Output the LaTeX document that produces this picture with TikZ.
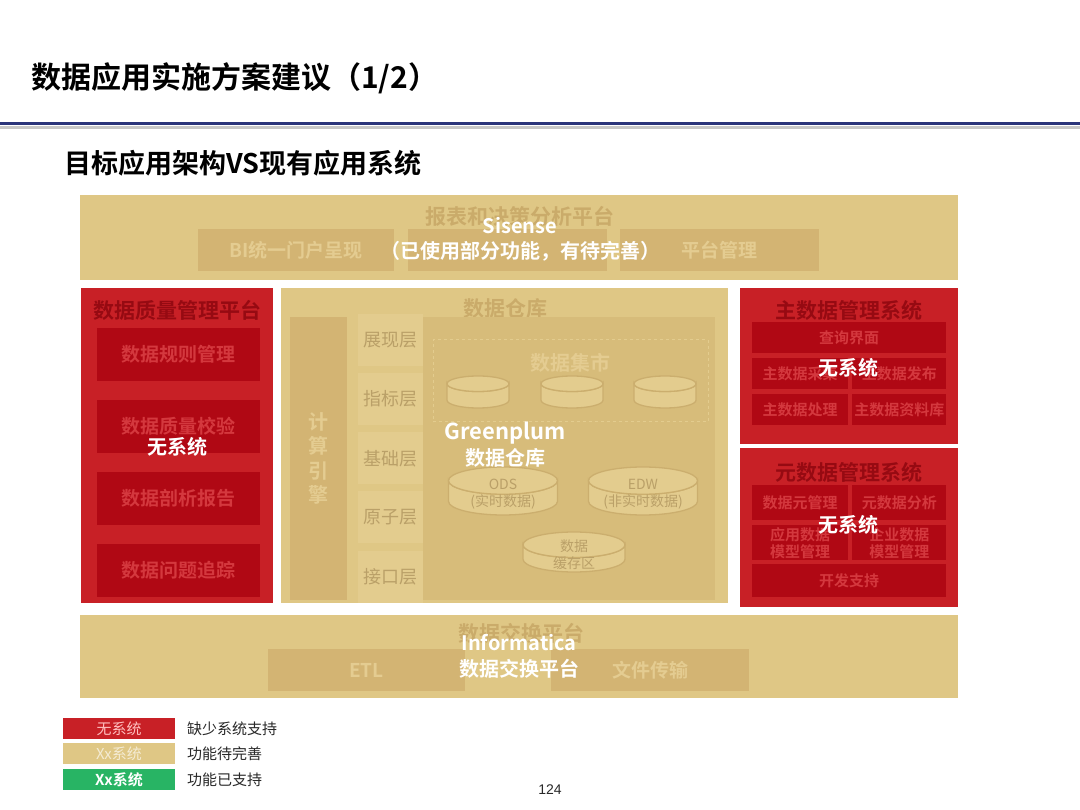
\documentclass[tikz,border=0pt]{standalone}
\usepackage{fontspec}
\setmainfont{Noto Sans CJK SC}[BoldFont={Noto Sans CJK SC Bold}]
\newfontfamily\numfont{Liberation Sans}
\usepackage{tikz}
\usetikzlibrary{positioning}

\definecolor{tanbg}{RGB}{223,199,133}
\definecolor{tandk}{RGB}{211,180,115}
\definecolor{tanin}{RGB}{215,188,122}
\definecolor{tancell}{RGB}{227,204,142}
\definecolor{tanttl}{RGB}{202,171,106}
\definecolor{tantx}{RGB}{228,204,145}
\definecolor{tanlyr}{RGB}{186,160,104}
\definecolor{tanedge}{RGB}{203,174,110}
\definecolor{redbg}{RGB}{200,32,38}
\definecolor{reddk}{RGB}{176,8,20}
\definecolor{redttl}{RGB}{150,10,18}
\definecolor{redtx}{RGB}{212,56,62}
\definecolor{navy}{RGB}{42,52,122}
\definecolor{okgreen}{RGB}{40,180,100}
\definecolor{lgdtx}{RGB}{40,40,40}

\newcommand\sz[2]{\fontsize{#1}{#2}\selectfont}
% flat storage disc: name, cx, cy, x radius, height, text
\newcommand\disc[6]{%
  \pgfmathsetmacro\dry{#4*0.25}%
  \pgfmathsetmacro\dtop{#3-#5/2+\dry}%
  \pgfmathsetmacro\dbot{#3+#5/2-\dry}%
  \filldraw[discline] ({#2-#4},\dtop) -- ({#2-#4},\dbot)
    arc[start angle=180,end angle=0,x radius=#4,y radius=\dry]
    -- ({#2+#4},\dtop)
    arc[start angle=0,end angle=180,x radius=#4,y radius=\dry] -- cycle;
  \filldraw[discline] (#2,\dtop) ellipse[x radius=#4,y radius=\dry];
  \node[disctext] (#1) at (#2,{#3+\dry/4}) {#6};
}

\begin{document}
\begin{tikzpicture}[
  x=1pt, y=-1pt,
  bar/.style={fill=tanbg,inner sep=0,minimum width=878,minimum height=85},
  redpanel/.style={fill=redbg,inner sep=0},
  tanpanel/.style={fill=tanbg,inner sep=0},
  tanbox/.style={fill=tandk,inner sep=0,minimum height=42,text=tantx,
                 font=\bfseries\sz{19}{23}},
  redbox/.style={fill=reddk,inner sep=0,text=redtx,align=center,
                 font=\bfseries\sz{15}{17}},
  tanhead/.style={text=tanttl,font=\bfseries\sz{21}{25}},
  redhead/.style={text=redttl,font=\bfseries\sz{21}{25}},
  over/.style={text=white,font=\bfseries\sz{20}{24}},
  layer/.style={fill=tancell,inner sep=0,minimum width=65,minimum height=52,
                text=tanlyr,font=\sz{18}{22}},
  discline/.style={draw=tanedge,line width=1.3pt,fill=tancell},
  disctext/.style={inner sep=0,align=center,text=tanlyr,font=\sz{14}{17}},
  lgd/.style={inner sep=0,minimum width=112,minimum height=21,
              font=\sz{15}{18}},
  lgdtext/.style={anchor=west,inner sep=0,text=lgdtx,font=\sz{15}{18}}
]
\useasboundingbox[fill=white] (0,0) rectangle (1080,810);

% heading
\node[anchor=west,inner sep=0,font=\bfseries\sz{30}{35}] (title) at (31,78) {数据应用实施方案建议（1/2）};
\node[fill=black!22,inner sep=0,minimum width=1080,minimum height=3] (shade) at (540,127.5) {};
\node[fill=navy,inner sep=0,minimum width=1080,minimum height=3] (rule) at (540,124) {};
\node[anchor=west,inner sep=0,font=\bfseries\sz{27}{32}] (subtitle) at (64,163) {目标应用架构VS现有应用系统};

% reporting platform
\node[bar] (rpt) at (519,238) {};
\node[tanhead] (rpthead) at (520,216) {报表和决策分析平台};
\node[tanbox,minimum width=196] (bi) at (296,250) {BI统一门户呈现};
\node[tanbox,minimum width=199,right=14pt of bi] (rptmid) {};
\node[tanbox,minimum width=199,right=12pt of rptmid] (plat) {平台管理};
\node[over] (sis) at (520,226) {Sisense};
\node[over] (sisnote) at (520,251) {（已使用部分功能，有待完善）};

% data quality
\node[redpanel,minimum width=192,minimum height=315] (dq) at (177,445.5) {};
\node[redhead] (dqhead) at (177,310) {数据质量管理平台};
\node[redbox,minimum width=163,minimum height=53,font=\bfseries\sz{19}{23}] (dq1) at (178.5,354.5) {数据规则管理};
\node[redbox,minimum width=163,minimum height=53,font=\bfseries\sz{19}{23},below=18.5pt of dq1] (dq2) {数据质量校验};
\node[redbox,minimum width=163,minimum height=53,font=\bfseries\sz{19}{23},below=18.5pt of dq2] (dq3) {数据剖析报告};
\node[redbox,minimum width=163,minimum height=53,font=\bfseries\sz{19}{23},below=18.5pt of dq3] (dq4) {数据问题追踪};
\node[over] (dqno) at (177,447) {无系统};

% data warehouse
\node[tanpanel,minimum width=447,minimum height=315] (dw) at (504.5,445.5) {};
\node[tanhead] (dwhead) at (505,309) {数据仓库};
\node[tanbox,minimum width=57,minimum height=283,align=center,
      font=\bfseries\sz{20}{24.5}] (eng) at (318.5,458.5) {计\\算\\引\\擎};
\node[fill=tanin,inner sep=0,minimum width=292,minimum height=283] (whin) at (569,458.5) {};
\node[layer] (l1) at (390.5,340) {展现层};
\node[layer,below=6.75pt of l1] (l2) {指标层};
\node[layer,below=6.75pt of l2] (l3) {基础层};
\node[layer,below=6.75pt of l3] (l4) {原子层};
\node[layer,below=6.75pt of l4] (l5) {接口层};
\node[draw=tancell,dashed,line width=1pt,inner sep=0,minimum width=275,minimum height=82] (mart) at (570.5,381) {};
\node[text=tantx,font=\bfseries\sz{20}{24}] (marthead) at (570,363) {数据集市};
\disc{m1}{478}{392}{31}{32}{}
\disc{m2}{572}{392}{31}{32}{}
\disc{m3}{665}{392}{31}{32}{}
\disc{ods}{503}{491}{54.5}{48}{ODS\\(实时数据)}
\disc{edw}{643}{491}{54.5}{48}{EDW\\(非实时数据)}
\disc{cache}{574}{552}{51}{40}{数据\\缓存区}
\node[over,font=\bfseries\sz{22}{26}] (gp) at (505,433) {Greenplum};
\node[over] (gpdw) at (505,458) {数据仓库};

% master data
\node[redpanel,minimum width=218,minimum height=156] (mdm) at (849,366) {};
\node[redhead] (mdmhead) at (849,310) {主数据管理系统};
\node[redbox,minimum width=194,minimum height=31] (query) at (849,337.5) {查询界面};
\node[redbox,minimum width=96,minimum height=31] (collect) at (800,373.5) {主数据采集};
\node[redbox,minimum width=94,minimum height=31,right=4pt of collect] (publish) {主数据发布};
\node[redbox,minimum width=96,minimum height=31,below=5pt of collect] (process) {主数据处理};
\node[redbox,minimum width=94,minimum height=31,right=4pt of process] (store) {主数据资料库};
\node[over] (mdmno) at (848,368) {无系统};

% meta data
\node[redpanel,minimum width=218,minimum height=159] (meta) at (849,527.5) {};
\node[redhead] (metahead) at (849,472) {元数据管理系统};
\node[redbox,minimum width=96,minimum height=35] (elem) at (800,502.5) {数据元管理};
\node[redbox,minimum width=94,minimum height=35,right=4pt of elem] (analyse) {元数据分析};
\node[redbox,minimum width=96,minimum height=35,below=5pt of elem] (appmodel) {应用数据\\模型管理};
\node[redbox,minimum width=94,minimum height=35,right=4pt of appmodel] (entmodel) {企业数据\\模型管理};
\node[redbox,minimum width=194,minimum height=33] (dev) at (849,580.5) {开发支持};
\node[over] (metano) at (848,525) {无系统};

% data exchange
\node[bar,minimum height=83] (xch) at (519,656.5) {};
\node[tanhead] (xchhead) at (521,633) {数据交换平台};
\node[tanbox,minimum width=197] (etl) at (366.5,670) {ETL};
\node[tanbox,minimum width=198] (file) at (650,670) {文件传输};
\node[over] (infa) at (519,643) {Informatica};
\node[over] (infanote) at (519,669) {数据交换平台};

% legend
\node[lgd,fill=redbg,text=red!25] (lg1) at (119,728.5) {无系统};
\node[lgd,fill=tanbg,text=tantx!40!white] (lg2) at (119,753.5) {Xx系统};
\node[lgd,fill=okgreen,text=white,font=\bfseries\sz{15}{18}] (lg3) at (119,779.5) {Xx系统};
\node[lgdtext] (lgt1) at (187,728.5) {缺少系统支持};
\node[lgdtext] (lgt2) at (187,753.5) {功能待完善};
\node[lgdtext] (lgt3) at (187,779.5) {功能已支持};
\node[text=lgdtx,font=\numfont\sz{14}{17}] (page) at (550,790) {124};
\end{tikzpicture}
\end{document}
